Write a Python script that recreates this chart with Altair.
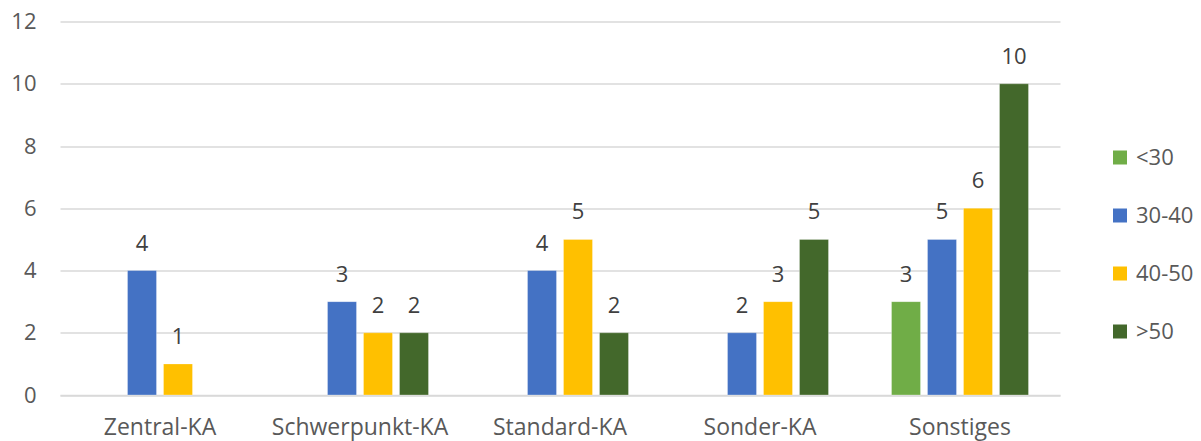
import altair as alt
import pandas as pd

categories = ["Zentral-KA", "Schwerpunkt-KA", "Standard-KA", "Sonder-KA", "Sonstiges"]
series = ["<30", "30-40", "40-50", ">50"]
colors = ["#70AD47", "#4472C4", "#FFC000", "#43682B"]
v_lt30 = [0, 0, 0, 0, 3]
v_30_40 = [4, 3, 4, 2, 5]
v_40_50 = [1, 2, 5, 3, 6]
v_gt50 = [0, 2, 2, 5, 10]

rows = []
for s, vals in zip(series, [v_lt30, v_30_40, v_40_50, v_gt50]):
    for c, v in zip(categories, vals):
        rows.append({"Kategorie": c, "Gruppe": s, "Wert": v})
df = pd.DataFrame(rows)

FONT = "Open Sans"
FS = 22
FSL = 23

x = alt.X("Kategorie:N", sort=categories,
          scale=alt.Scale(domain=categories, paddingInner=0.315, paddingOuter=0.1575),
          axis=alt.Axis(title=None, labelAngle=0, labelFontSize=FSL, labelColor="#595959",
                        labelFont=FONT, ticks=False, domain=True, domainColor="#d9d9d9",
                        domainWidth=1.5, labelPadding=21, labelBaseline="top"))
xo = alt.XOffset("Gruppe:N", sort=series,
                 scale=alt.Scale(domain=series, paddingInner=0.194, paddingOuter=0))
y = alt.Y("Wert:Q", scale=alt.Scale(domain=[0, 12], nice=False),
          axis=alt.Axis(title=None, values=[0, 2, 4, 6, 8, 10, 12], labelFontSize=FS,
                        labelColor="#595959", labelFont=FONT, ticks=False, domain=False,
                        gridColor="#d9d9d9", gridWidth=1.5, labelPadding=24))

base = alt.Chart(df).transform_filter(alt.datum.Wert > 0)

bars = base.mark_bar(stroke="white", strokeWidth=0.6, strokeOpacity=0.5).encode(
    x=x, xOffset=xo, y=y,
    color=alt.Color("Gruppe:N", sort=series,
                    scale=alt.Scale(domain=series, range=colors),
                    legend=alt.Legend(title=None, orient="none", legendX=1049, legendY=125,
                                      symbolType="square", symbolSize=196,
                                      symbolStrokeWidth=0, labelFontSize=FS,
                                      labelColor="#595959", labelFont=FONT,
                                      labelOffset=5, rowPadding=36)),
)

labels = base.mark_text(dy=-27, fontSize=FS, color="#404040", font=FONT,
                        baseline="middle").encode(
    x=x, xOffset=xo, y=y, text=alt.Text("Wert:Q")
)

chart = (bars + labels).properties(
    width=1000, height=373.5,
    autosize=alt.AutoSizeParams(type="none"),
    padding={"left": 52, "top": 13.5, "right": 133, "bottom": 50},
).configure_view(stroke=None)

chart.save("out.html", embed_options={"renderer": "svg", "actions": False})
